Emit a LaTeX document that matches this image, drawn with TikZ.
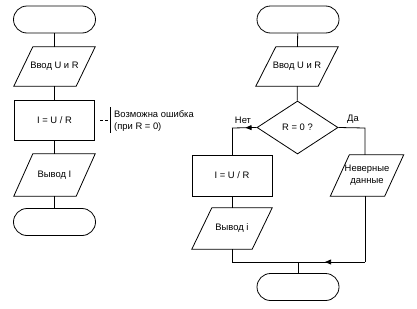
\documentclass[tikz,border=0pt]{standalone}
\usepackage{fontspec}
\setmainfont{Liberation Sans}
\usetikzlibrary{shapes.geometric,arrows.meta,decorations.markings}
\newcommand\parabox[2]{\draw[line] ([xshift=-#2]#1.south west) -- ([xshift=-#2]#1.south east) -- ([xshift=#2]#1.north east) -- ([xshift=#2]#1.north west) -- cycle;}
\begin{document}
\begin{tikzpicture}[x=1pt,y=-1pt,
  every node/.style={font=\fontsize{9.4}{12}\selectfont},
  line/.style={line width=0.8pt},
  term/.style={draw, line width=0.8pt, rectangle, rounded corners=13.5pt, minimum width=82pt, minimum height=27pt, inner sep=0pt},
  proc/.style={draw, line width=0.8pt, rectangle, minimum width=80pt, minimum height=40pt, inner sep=0pt},
  io/.style={rectangle, minimum width=#1, minimum height=40pt, inner sep=0pt},
  dec/.style={draw, line width=0.8pt, diamond, minimum width=81pt, minimum height=53pt, inner sep=0pt},
  midarr/.style={decoration={markings, mark=at position #1 with {\arrow{Triangle[length=6pt,width=5pt]}}}, postaction={decorate}}
]
\useasboundingbox (0,0) rectangle (417,308);
% left chart
\node[term] (t1) at (54.5,19.5) {};
\node[io=62pt, minimum height=39pt] (in1) at (54.5,66.5) {Ввод U и R};
\parabox{in1}{9.5pt}
\node[proc] (c1) at (54.5,120) {I = U / R};
\node[io=62pt, minimum height=42pt] (o1) at (54.5,175) {Вывод I};
\parabox{o1}{9.5pt}
\node[term] (t2) at (54.5,222) {};
\draw[line] (t1) -- (in1);
\draw[line] (in1) -- (c1);
\draw[line] (c1) -- (o1);
\draw[line] (o1) -- (t2);
% annotation
\coordinate (ab) at (110,107);
\coordinate (ae) at (110,133);
\draw[line, dash pattern=on 3pt off 1.5pt] ([xshift=5.5pt]c1.east) -- (c1.east -| 107.5,0);
\draw[line] (ab) -- (ae);
\node[anchor=west, align=left, inner sep=0pt] (note) at (114,121) {Возможна ошибка\\(при R = 0)};
% right chart
\node[term] (t3) at (298,19.5) {};
\node[io=62pt, minimum height=39pt] (in2) at (297,66.5) {Ввод U и R};
\parabox{in2}{10pt}
\node[dec] (d) at (297.5,127.5) {R = 0 ?};
\node[proc, minimum height=41pt] (c2) at (232,175.5) {I = U / R};
\node[io=54pt, minimum height=41pt, align=center] (err) at (367,175.5) {Неверные\\данные};
\parabox{err}{9.5pt}
\node[io=60pt, minimum height=41pt] (o2) at (232,228.5) {Вывод i};
\parabox{o2}{10pt}
\node[term] (t4) at (298,287) {};
\coordinate (jl) at (232,262);
\coordinate (jr) at (365,262);
\coordinate (nl) at (232,128);
\coordinate (dr) at (365,128);
\draw[line] (t3) -- (in2);
\draw[line] (in2) -- (d);
\draw[line, midarr=0.45] (d.west) -- (nl);
\draw[line] (nl) -- (c2.north);
\draw[line] (d.east) -- (dr) -- (err.north -| dr);
\draw[line] (c2) -- (o2);
\draw[line] (err.south -| jr) -- (jr);
\draw[line, midarr=0.3] (jr) -- (jl);
\draw[line] (o2.south) -- (jl);
\draw[line] (t4.north) -- (t4.north |- jl);
\node[anchor=south, inner sep=1pt] (no) at (243,125) {Нет};
\node[anchor=south, inner sep=1pt] (yes) at (353,125) {Да};
\end{tikzpicture}
\end{document}
